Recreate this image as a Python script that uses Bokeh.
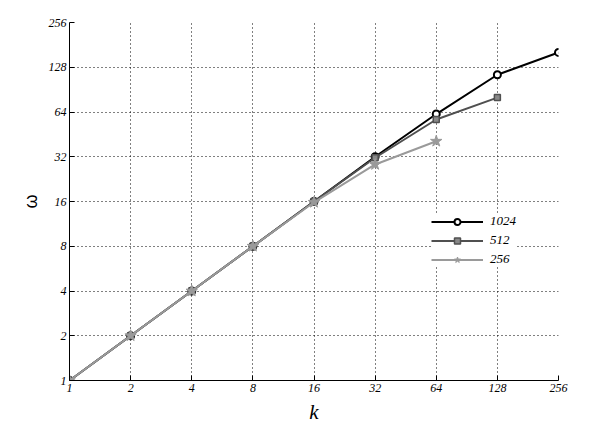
from bokeh.plotting import figure
from bokeh.models import FixedTicker, BasicTickFormatter, Legend, LegendItem, Range1d
from bokeh.embed import file_html
from bokeh.resources import INLINE

# Data
k_1024 = [1, 2, 4, 8, 16, 32, 64, 128, 256]
w_1024 = [1, 2, 4, 8, 16, 32, 62, 114, 161]
k_512 = [1, 2, 4, 8, 16, 32, 64, 128]
w_512 = [1, 2, 4, 8, 16, 31.5, 57, 80]
k_256 = [1, 2, 4, 8, 16, 32, 64]
w_256 = [1, 2, 4, 8, 15.8, 28.4, 40.7]
tick_values = [1, 2, 4, 8, 16, 32, 64, 128, 256]
series_names = ["1024", "512", "256"]

SERIF = "Liberation Serif"

p = figure(width=596, height=426, x_axis_type="log", y_axis_type="log",
           output_backend="svg", toolbar_location=None,
           x_range=Range1d(1, 256), y_range=Range1d(1, 256),
           min_border_left=69, min_border_right=38, min_border_top=22, min_border_bottom=46)
p.outline_line_color = None
p.background_fill_color = "white"
p.border_fill_color = "white"

for ax in (p.xaxis[0], p.yaxis[0]):
    ax.ticker = FixedTicker(ticks=tick_values)
    ax.formatter = BasicTickFormatter()
    ax.major_label_overrides = {v: str(v) for v in tick_values}
    ax.major_tick_in = 5
    ax.major_tick_out = 0
    ax.minor_tick_in = 0
    ax.minor_tick_out = 0
    ax.axis_line_color = "black"
    ax.axis_line_width = 1
    ax.major_tick_line_color = "black"
    ax.major_label_text_font = SERIF
    ax.major_label_text_font_style = "italic"
    ax.major_label_text_font_size = "12px"
    ax.major_label_text_color = "black"
    ax.major_label_standoff = 3

p.xaxis.axis_label = "k"
p.xaxis.axis_label_text_font = SERIF
p.xaxis.axis_label_text_font_style = "italic"
p.xaxis.axis_label_text_font_size = "21px"
p.xaxis.axis_label_standoff = 5
p.xaxis.axis_label_text_color = "black"

p.yaxis.axis_label = "ω"
p.yaxis.axis_label_text_font = "Liberation Sans"
p.yaxis.axis_label_text_font_style = "normal"
p.yaxis.axis_label_text_font_size = "18px"
p.yaxis.axis_label_standoff = 5
p.yaxis.axis_label_text_color = "black"

for g in (p.xgrid[0], p.ygrid[0]):
    g.grid_line_color = "black"
    g.grid_line_dash = "1 3"
    g.grid_line_width = 1
    g.grid_line_alpha = 1.0
    g.ticker = FixedTicker(ticks=tick_values)

c1, c2, c3 = "black", "#505050", "#9a9a9a"
l1 = p.line(k_1024, w_1024, line_color=c1, line_width=2)
m1 = p.scatter(k_1024, w_1024, marker="circle", size=7, line_color=c1, line_width=2, fill_color="white")
l2 = p.line(k_512, w_512, line_color=c2, line_width=2)
m2 = p.scatter(k_512, w_512, marker="square", size=6, line_color=c2, line_width=1.5, fill_color="#888888")
l3 = p.line(k_256, w_256, line_color=c3, line_width=2)
m3 = p.scatter(k_256, w_256, marker="star", size=12, line_color=c3, line_width=1, fill_color=c3)

legend = Legend(items=[LegendItem(label=series_names[0], renderers=[l1, m1]),
                       LegendItem(label=series_names[1], renderers=[l2, m2]),
                       LegendItem(label=series_names[2], renderers=[l3, m3])],
                location=(362, 113))
legend.border_line_color = None
legend.background_fill_color = "white"
legend.background_fill_alpha = 1.0
legend.padding = 5
legend.margin = 0
legend.spacing = 3
legend.glyph_width = 52
legend.glyph_height = 15
legend.label_standoff = 7
legend.label_text_font = SERIF
legend.label_text_font_style = "italic"
legend.label_text_font_size = "13px"
legend.label_text_color = "black"
legend.label_height = 15
p.add_layout(legend)

open("out.html", "w").write(file_html(p, INLINE))
